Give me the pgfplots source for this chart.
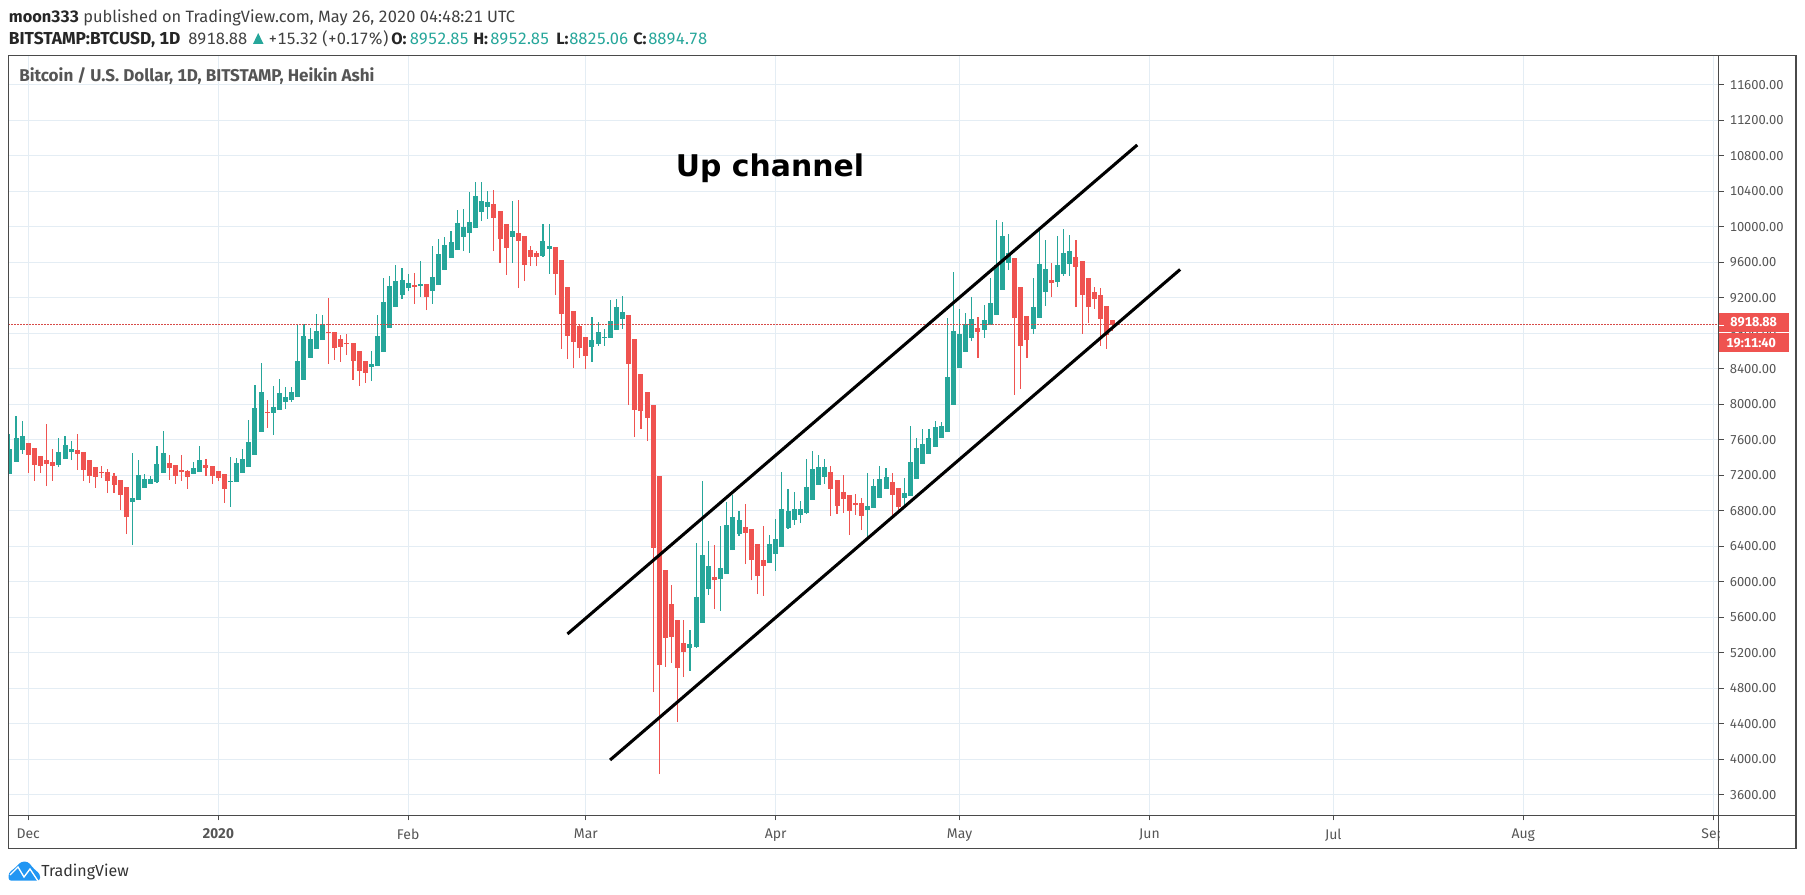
\documentclass[border=0pt]{standalone}
\usepackage{pgfplots}
\usepackage{pgfplotstable}
\usepackage{fontspec}
\setmainfont[Numbers={Monospaced,Lining}]{Fira Sans}
\newfontfamily\djfont{DejaVu Sans}
\pgfplotsset{compat=1.18}
\definecolor{tvgreen}{HTML}{26A69A}
\definecolor{tvred}{HTML}{EF5350}
\definecolor{tvgrid}{HTML}{E4EDF4}
\definecolor{tvframe}{HTML}{4A4A4A}
\definecolor{tvtext}{HTML}{555555}
\definecolor{tvblue}{HTML}{2196F3}
\pgfplotstableread{
d wl bl bh wh
-3 7215 7215 7496 7665
-2 7350 7350 7620 7868
-1 7440 7485 7643 7812
5 7293 7316 7462 7620
6 7384 7384 7541 7643
7 7372 7462 7496 7586
17 6415 6899 6944 7451
18 6922 6922 7203 7372
19 7057 7057 7158 7215
20 7102 7102 7158 7192
21 7113 7124 7327 7530
22 7226 7226 7451 7699
27 7215 7215 7282 7350
28 7237 7237 7372 7530
33 6843 7124 7136 7406
34 7124 7124 7338 7395
35 7226 7226 7384 7496
36 7293 7293 7575 7823
37 7429 7429 7958 8217
38 7688 7688 8138 8465
40 7654 7902 7969 8206
41 7936 7936 8127 8285
42 7947 8026 8082 8195
43 8026 8048 8138 8195
44 8082 8082 8488 8893
45 8274 8274 8770 8905
46 8522 8522 8736 8860
47 8623 8623 8826 9017
48 8724 8724 8905 9006
56 8262 8420 8454 8601
57 8431 8431 8770 9006
58 8589 8589 9153 9423
59 8860 8860 9333 9446
60 9096 9096 9389 9570
61 9186 9231 9401 9536
62 9277 9310 9367 9468
64 9209 9333 9355 9615
66 9130 9277 9434 9784
67 9344 9344 9693 9862
68 9513 9513 9795 9885
69 9648 9648 9829 9953
70 9739 9739 10043 10189
71 9727 9885 9998 10201
72 9705 9930 10054 10392
73 9986 9986 10347 10505
74 10065 10167 10291 10505
75 10088 10223 10279 10403
79 9592 9885 9953 10291
84 9660 9671 9840 10032
85 9468 9750 9784 10032
92 8477 8646 8724 8984
93 8657 8679 8815 8927
94 8657 8747 8758 8848
95 8747 8747 8939 9175
96 8837 8837 9096 9186
97 8848 8961 9040 9220
108 4995 5254 5299 5457
109 5254 5265 5829 6437
110 5536 5536 6302 7136
111 5851 5919 6178 6460
113 5671 6031 6155 6629
114 6088 6088 6640 6899
115 6358 6358 6730 6978
116 6516 6538 6696 6798
121 6212 6212 6426 6527
122 6122 6313 6482 6707
123 6392 6392 6820 7237
124 6595 6606 6798 7046
125 6640 6696 6820 7012
126 6662 6753 6820 6910
127 6764 6775 7068 7384
128 6922 6922 7271 7474
129 7091 7091 7293 7429
130 7102 7181 7293 7384
137 6508 6809 6854 7226
138 6831 6831 7079 7158
139 6944 6944 7158 7305
140 7046 7046 7181 7282
143 6846 6944 7000 7170
144 6967 6967 7350 7755
145 7158 7158 7508 7620
146 7327 7327 7553 7722
147 7440 7440 7620 7722
148 7519 7519 7744 7812
149 7620 7620 7755 7800
150 7688 7688 8308 8972
151 7992 7992 8826 9491
152 8409 8409 8792 9074
153 8589 8589 8905 9029
154 8713 8747 8961 9209
156 8747 8837 8950 9119
157 8893 8893 9141 9423
158 9006 9006 9570 10077
159 9288 9288 9896 10054
160 9513 9592 9705 9919
164 8792 8848 9096 9423
165 8972 8972 9581 9964
166 9108 9265 9525 9851
168 9322 9378 9570 9896
169 9446 9468 9705 9975
170 9446 9581 9727 9908
}\upT
\pgfplotstableread{
d wl bl bh wh
0 7226 7429 7564 7564
1 7136 7316 7507 7507
2 7226 7305 7417 7417
3 7079 7327 7372 7778
4 7136 7305 7350 7496
8 7260 7440 7485 7665
9 7136 7260 7462 7462
10 7113 7192 7372 7372
11 7057 7181 7293 7293
12 7169 7226 7237 7305
13 7000 7136 7237 7271
14 7000 7091 7192 7226
15 6809 6978 7147 7147
16 6538 6730 7068 7068
23 7147 7282 7338 7429
24 7102 7192 7316 7316
25 7136 7237 7260 7429
26 7046 7181 7248 7260
29 7192 7282 7316 7384
30 7102 7192 7305 7305
31 7136 7169 7248 7248
32 6888 7046 7215 7215
39 7733 7902 7913 8048
49 8454 8803 8815 9198
50 8499 8634 8815 8815
51 8477 8646 8736 8781
52 8555 8679 8691 8792
53 8274 8488 8691 8691
54 8206 8375 8601 8601
55 8240 8353 8488 8488
63 9130 9322 9344 9479
65 9062 9209 9355 9355
76 9727 10099 10257 10415
77 9592 9862 10178 10178
78 9457 9761 10032 10032
80 9310 9840 9930 10302
81 9389 9570 9896 9896
82 9558 9660 9739 9784
83 9558 9660 9705 9727
86 9231 9468 9772 9772
87 8623 9017 9626 9626
88 8510 8770 9322 9322
89 8409 8702 9051 9051
90 8522 8634 8882 8893
91 8398 8544 8758 8758
98 7992 8454 9006 9006
99 7631 7936 8736 8736
100 7722 7924 8341 8341
101 7586 7846 8138 8138
102 4758 6381 7992 7992
103 3834 5062 7192 7192
104 5040 5367 6133 6133
105 5085 5378 5750 5964
106 4420 5029 5569 5569
107 4927 5209 5310 5569
112 5693 6020 6054 6415
117 6200 6550 6617 6876
118 6020 6246 6595 6595
119 5862 6065 6426 6426
120 5840 6178 6246 6629
131 6741 7046 7237 7305
132 6764 6854 7147 7147
133 6775 6933 7012 7203
134 6527 6798 6978 6978
135 6753 6865 6888 6989
136 6583 6741 6888 6944
141 6753 6978 7125 7226
142 6809 6843 7057 7057
155 8522 8815 8860 8984
161 8105 8972 9648 9648
162 8172 8657 9322 9322
163 8522 8724 8995 8995
167 9209 9367 9401 9592
171 9096 9547 9660 9851
172 8792 9232 9615 9615
173 8916 9096 9423 9423
174 9074 9186 9265 9322
175 8657 8961 9232 9310
176 8623 8781 9108 9108
177 8825 8895 8953 8953
}\downT
\newcommand{\candles}[2]{%
 \addplot[draw=none,mark=none,forget plot,error bars/.cd,y dir=plus,y explicit,error mark=none,
   error bar style={draw=#2,solid,line width=0.85pt}]
   table[x=d,y=wl,y error plus expr=\thisrow{wh}-\thisrow{wl}]{#1};
 \addplot[draw=none,mark=none,forget plot,error bars/.cd,y dir=plus,y explicit,error mark=none,
   error bar style={draw=#2,solid,line width=3.75pt}]
   table[x=d,y=bl,y error plus expr=\thisrow{bh}-\thisrow{bl}]{#1};
}
\newcommand{\tx}[4]{\node[anchor=base west,inner sep=0pt,font=\fontsize{12.3pt}{14pt}\selectfont,text=#3] at ({#1*0.75pt},{(895-#2)*0.75pt}) {#4};}
\begin{document}
\begin{tikzpicture}
\path (0,0) rectangle (1353.75pt,671.25pt);
\begin{axis}[
 at={(6.225pt,59.775pt)},anchor=south west,scale only axis,
 width=1282.8pt,height=569.85pt,
 xmin=-3.26,xmax=275.9,ymin=3369,ymax=11930,
 axis line style={draw=none},
 tick align=outside,xtick pos=bottom,ytick pos=right,yticklabel pos=right,
 major tick length=3.75pt,
 tick style={draw=tvframe,line width=0.75pt},
 grid=major,grid style={draw=tvgrid,line width=0.8pt},
 xtick={0,31,62,91,122,152,183,213,244,275},
 xticklabels={Dec,\textbf{2020},Feb,Mar,Apr,May,Jun,Jul,Aug,Sep},
 ytick={3600,4000,...,11600},
 scaled y ticks=false,
 /pgf/number format/fixed,/pgf/number format/fixed zerofill,/pgf/number format/precision=2,
 /pgf/number format/1000 sep={},/pgf/number format/assume math mode=true,
 xticklabel style={font=\fontsize{10.5pt}{12pt}\selectfont,text=tvtext,yshift=-3pt},
 yticklabel style={font=\fontsize{9.7pt}{12pt}\selectfont,text=tvtext,anchor=west,xshift=1pt},
]
\candles{\upT}{tvgreen}
\candles{\downT}{tvred}
\addplot[forget plot,draw=tvred!90!black,line width=0.75pt,dash pattern=on 1.5pt off 0.75pt] coordinates {(-3.26,8895) (275.9,8895)};
\addplot[forget plot,draw=black,line width=2.3pt] coordinates {(88,5412) (181,10922)};
\addplot[forget plot,draw=black,line width=2.3pt] coordinates {(94.96,3992) (188,9519)};
\end{axis}
% masks and frame
\fill[white] ({1719.5*0.75pt},{(895-847)*0.75pt}) rectangle ({1795*0.75pt},{(895-816)*0.75pt});
\draw[tvframe,line width=1.1pt] ({8.3*0.75pt},{(895-55.5)*0.75pt}) rectangle ({1796*0.75pt},{(895-848.3)*0.75pt});
\draw[tvframe,line width=1.1pt] ({1718.7*0.75pt},{(895-55.5)*0.75pt}) -- ({1718.7*0.75pt},{(895-848.3)*0.75pt});
\draw[tvframe,line width=1.1pt] ({8.3*0.75pt},{(895-815.3)*0.75pt}) -- ({1796*0.75pt},{(895-815.3)*0.75pt});
% price tags
\fill[tvred] ({1719*0.75pt},{(895-313)*0.75pt}) rectangle ({1789*0.75pt},{(895-331.7)*0.75pt});
\fill[tvred] ({1719*0.75pt},{(895-333)*0.75pt}) rectangle ({1789*0.75pt},{(895-351.7)*0.75pt});
\draw[white,line width=0.75pt] ({1719*0.75pt},{(895-325.3)*0.75pt}) -- ({1724*0.75pt},{(895-325.3)*0.75pt});
\node[anchor=base west,inner sep=0pt,text=white,font=\fontsize{9.7pt}{12pt}\bfseries\selectfont] at ({1730*0.75pt},{(895-327)*0.75pt}) {8918.88};
\node[anchor=base west,inner sep=0pt,text=white,font=\fontsize{9.7pt}{12pt}\bfseries\selectfont] at ({1726*0.75pt},{(895-347.5)*0.75pt}) {19:11:40};
% header
\tx{8.7}{22.3}{black!85}{\textbf{moon333}\textcolor{black!75}{\ published on TradingView.com, May 26, 2020 04:48:21 UTC}}
\node[anchor=base west,inner sep=0pt,font=\fontsize{13pt}{14pt}\selectfont,text=black!85] at ({8.7*0.75pt},{(895-44.5)*0.75pt}) {\textbf{BITSTAMP:BTCUSD, 1D}};
\tx{188}{44.5}{black!75}{8918.88}
\fill[tvgreen] ({253*0.75pt},{(895-44)*0.75pt}) -- ({263.5*0.75pt},{(895-44)*0.75pt}) -- ({258.2*0.75pt},{(895-33)*0.75pt}) -- cycle;
\tx{268}{44.5}{black!75}{+15.32 (+0.17\%)}
\tx{391}{44.5}{black!85}{\textbf{O:}}
\tx{409.5}{44.5}{tvgreen}{8952.85}
\tx{473}{44.5}{black!85}{\textbf{H:}}
\tx{490}{44.5}{tvgreen}{8952.85}
\tx{556}{44.5}{black!85}{\textbf{L:}}
\tx{569}{44.5}{tvgreen}{8825.06}
\tx{633}{44.5}{black!85}{\textbf{C:}}
\tx{648}{44.5}{tvgreen}{8894.78}
\node[anchor=base west,inner sep=0pt,font=\fontsize{12.8pt}{14pt}\selectfont,text=tvtext] at ({19*0.75pt},{(895-82)*0.75pt}) {\textbf{Bitcoin / U.S. Dollar, 1D, BITSTAMP, Heikin Ashi}};
% annotation
\node[inner sep=0pt,text=black,font=\djfont\fontsize{22.4pt}{24pt}\bfseries\selectfont] at ({770*0.75pt},{(895-168)*0.75pt}) {Up channel};
% logo
\fill[tvblue,rounded corners=2pt] ({8.6*0.75pt},{(895-880.7)*0.75pt}) -- ({8.6*0.75pt},{(895-873)*0.75pt}) -- ({16*0.75pt},{(895-867)*0.75pt}) -- ({21*0.75pt},{(895-861.7)*0.75pt}) -- ({28*0.75pt},{(895-861.7)*0.75pt}) -- ({34*0.75pt},{(895-869)*0.75pt}) -- ({40*0.75pt},{(895-874)*0.75pt}) -- ({40*0.75pt},{(895-880.7)*0.75pt}) -- cycle;
\draw[white,line width=1pt] ({10*0.75pt},{(895-875)*0.75pt}) -- ({18*0.75pt},{(895-867)*0.75pt}) -- ({24*0.75pt},{(895-877)*0.75pt}) -- ({30*0.75pt},{(895-869)*0.75pt}) -- ({38*0.75pt},{(895-881)*0.75pt});
\node[anchor=base west,inner sep=0pt,text=black!80,font=\fontsize{12pt}{14pt}\selectfont] at ({41*0.75pt},{(895-877)*0.75pt}) {TradingView};
\end{tikzpicture}
\end{document}
